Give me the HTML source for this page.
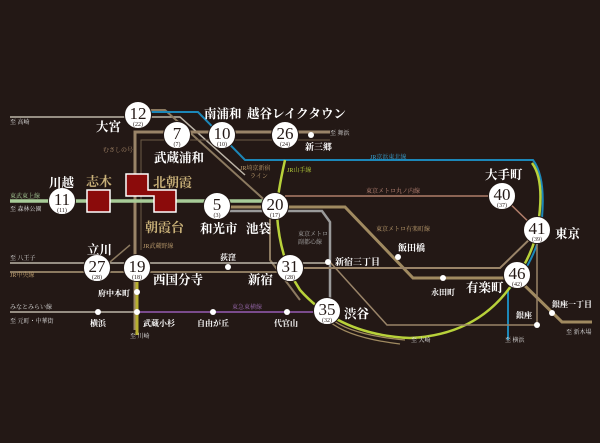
<!DOCTYPE html>
<html><head><meta charset="utf-8"><style>
html,body{margin:0;padding:0;background:#231815;}
svg{display:block}
text{font-family:"Liberation Serif","Noto Serif CJK SC","Noto Sans CJK JP",serif;}
.st{fill:#fff;font-size:12.5px;font-weight:bold}
.sm{font-size:6px;fill:#ddd;font-family:"Liberation Sans","Noto Sans CJK JP",sans-serif}
.n{fill:#231815;font-size:17px;text-anchor:middle}
.s{fill:#231815;font-size:6px;text-anchor:middle}
</style></head><body>
<svg width="600" height="443" viewBox="0 0 600 443">
<rect width="600" height="443" fill="#231815"/>
<path d="M10 117 H180 L245 175" stroke="#bdb5a8" stroke-width="1.5" fill="none"/>
<path d="M138 110 H165 L270 205 L270 260 L300 300" stroke="#8c7a60" stroke-width="2" fill="none"/>
<path d="M138 112 H198 L245 160 H533 Q548 180 540 235 Q530 270 508 290 V340" stroke="#1c87b8" stroke-width="2" fill="none"/>
<path d="M285 160 Q276 200 277 215 Q280 260 300 290 Q340 335 410 338 Q480 335 515 280 Q535 250 538 225 Q545 180 532 163" stroke="#b8d13a" stroke-width="2.5" fill="none"/>
<path d="M135 330 V132 H330" stroke="#9a8468" stroke-width="3" fill="none"/>
<path d="M141 250 V140 H330" stroke="#6e5c48" stroke-width="1" fill="none"/>
<path d="M10 201 H275" stroke="#a8cc98" stroke-width="3.5" fill="none"/>
<path d="M217 211 H322 L330 222 V262 L330 300" stroke="#9a9a9a" stroke-width="2.5" fill="none"/>
<path d="M217 207 H345 L413 278 H517 L562 322 H592" stroke="#a08a60" stroke-width="3" fill="none"/>
<path d="M285 196 H502 L537 230" stroke="#b07d6a" stroke-width="1.5" fill="none"/>
<path d="M290 268 H500 L537 232" stroke="#9a8468" stroke-width="2" fill="none"/>
<path d="M10 263 H330" stroke="#bdb5a8" stroke-width="1.5" fill="none"/>
<path d="M10 272 H290" stroke="#8c7a60" stroke-width="2" fill="none"/>
<path d="M110 262 L130 245" stroke="#8c7a60" stroke-width="1.5" fill="none"/>
<path d="M330 262 L387 325 H537 V235" stroke="#9a8468" stroke-width="1.5" fill="none"/>
<path d="M10 312 H137" stroke="#bdb5a8" stroke-width="1.5"/>
<path d="M137 312 H327" stroke="#7a4b8c" stroke-width="2"/>
<path d="M137 275 V335" stroke="#b8b030" stroke-width="3"/>
<path d="M330 318 Q350 335 405 340 M330 322 Q350 338 400 344" stroke="#a08a60" stroke-width="1.2" fill="none"/>
<rect x="87" y="190" width="23" height="22" fill="#8b0b0b" stroke="#fff" stroke-width="1.5"/>
<path d="M126 174 H148 V190 H176 V212 H154 V196 H126 Z" fill="#8b0b0b" stroke="#fff" stroke-width="1.5"/>
<g fill="#fff">
<circle cx="311" cy="135" r="3"/><circle cx="228" cy="267" r="3"/><circle cx="137" cy="292" r="3"/>
<circle cx="98" cy="312" r="3"/><circle cx="137" cy="312" r="3"/><circle cx="213" cy="312" r="3"/>
<circle cx="287" cy="312" r="3"/><circle cx="328" cy="262" r="3"/><circle cx="398" cy="257" r="3"/>
<circle cx="443" cy="278" r="3"/><circle cx="537" cy="325" r="3"/><circle cx="552" cy="313" r="3"/>
</g>
<g stroke="#231815" stroke-width="1" fill="#fff">
<circle cx="138" cy="115" r="13.5"/><circle cx="177" cy="135" r="13.5"/><circle cx="222" cy="135" r="13.5"/>
<circle cx="285" cy="135" r="13.5"/><circle cx="62" cy="201" r="13.5"/><circle cx="217" cy="206" r="13.5"/>
<circle cx="275" cy="206" r="13.5"/><circle cx="97" cy="268" r="13.5"/><circle cx="137" cy="268" r="13.5"/>
<circle cx="290" cy="268" r="13.5"/><circle cx="327" cy="311" r="13.5"/><circle cx="502" cy="196" r="13.5"/>
<circle cx="537" cy="230" r="13.5"/><circle cx="517" cy="275" r="13.5"/>
</g>
<g>
<text class="n" x="138" y="119">12</text><text class="s" x="138" y="126">(22)</text>
<text class="n" x="177" y="139">7</text><text class="s" x="177" y="146">(7)</text>
<text class="n" x="222" y="139">10</text><text class="s" x="222" y="146">(10)</text>
<text class="n" x="285" y="139">26</text><text class="s" x="285" y="146">(24)</text>
<text class="n" x="62" y="205">11</text><text class="s" x="62" y="212">(11)</text>
<text class="n" x="217" y="210">5</text><text class="s" x="217" y="217">(3)</text>
<text class="n" x="275" y="210">20</text><text class="s" x="275" y="217">(17)</text>
<text class="n" x="97" y="272">27</text><text class="s" x="97" y="279">(28)</text>
<text class="n" x="137" y="272">19</text><text class="s" x="137" y="279">(18)</text>
<text class="n" x="290" y="272">31</text><text class="s" x="290" y="279">(28)</text>
<text class="n" x="327" y="315">35</text><text class="s" x="327" y="322">(32)</text>
<text class="n" x="502" y="200">40</text><text class="s" x="502" y="207">(37)</text>
<text class="n" x="537" y="234">41</text><text class="s" x="537" y="241">(39)</text>
<text class="n" x="517" y="279">46</text><text class="s" x="517" y="286">(42)</text>
</g>
<g class="st">
<text x="96" y="131">大宮</text><text x="204" y="118">南浦和</text><text x="247" y="118">越谷レイクタウン</text>
<text x="154" y="162">武蔵浦和</text><text x="305" y="150" font-size="9">新三郷</text>
<text x="49" y="187">川越</text><text x="86" y="186" style="fill:#c8b078" font-size="13">志木</text>
<text x="153" y="187" style="fill:#c8b078" font-size="13">北朝霞</text><text x="145" y="232" style="fill:#c8b078" font-size="13">朝霞台</text>
<text x="200" y="233">和光市</text><text x="246" y="233">池袋</text>
<text x="87" y="254">立川</text><text x="153" y="284">西国分寺</text><text x="248" y="284">新宿</text>
<text x="220" y="260" font-size="8">荻窪</text><text x="98" y="296" font-size="8">府中本町</text>
<text x="90" y="326" font-size="8">横浜</text><text x="143" y="326" font-size="8">武蔵小杉</text>
<text x="197" y="326" font-size="8">自由が丘</text><text x="274" y="326" font-size="8">代官山</text>
<text x="335" y="265" font-size="9">新宿三丁目</text><text x="398" y="251" font-size="9">飯田橋</text>
<text x="431" y="295" font-size="8">永田町</text><text x="466" y="292">有楽町</text>
<text x="344" y="318">渋谷</text><text x="485" y="179">大手町</text><text x="555" y="238">東京</text>
<text x="516" y="318" font-size="8">銀座</text><text x="552" y="307" font-size="8">銀座一丁目</text>
</g>
<g class="sm">
<text x="10" y="124">至 高崎</text><text x="10" y="198" style="fill:#a8cc98">東武東上線</text><text x="10" y="211">至 森林公園</text>
<text x="10" y="260">至 八王子</text><text x="10" y="277" style="fill:#c0a070">JR中央線</text>
<text x="10" y="309">みなとみらい線</text><text x="10" y="323">至 元町・中華街</text>
<text x="103" y="152" style="fill:#b09070">むさしの号</text>
<text x="240" y="170" style="fill:#c0a070">JR埼京新宿</text><text x="250" y="178" style="fill:#c0a070">ライン</text>
<text x="287" y="172" style="fill:#b8d13a">JR山手線</text><text x="370" y="159" style="fill:#3aa0d0">JR京浜東北線</text>
<text x="366" y="193" style="fill:#c08a7a">東京メトロ丸ノ内線</text><text x="376" y="231" style="fill:#c0a070">東京メトロ有楽町線</text>
<text x="143" y="248" style="fill:#c0a070">JR武蔵野線</text><text x="298" y="236" style="fill:#aaa">東京メトロ</text><text x="298" y="244" style="fill:#aaa">副都心線</text>
<text x="232" y="309" style="fill:#9a6ab0">東急東横線</text><text x="130" y="338">至 川崎</text>
<text x="411" y="342">至 大崎</text><text x="505" y="342">至 横浜</text><text x="566" y="334">至 新木場</text><text x="330" y="135">至 舞浜</text>
</g>
</svg>
</body></html>
